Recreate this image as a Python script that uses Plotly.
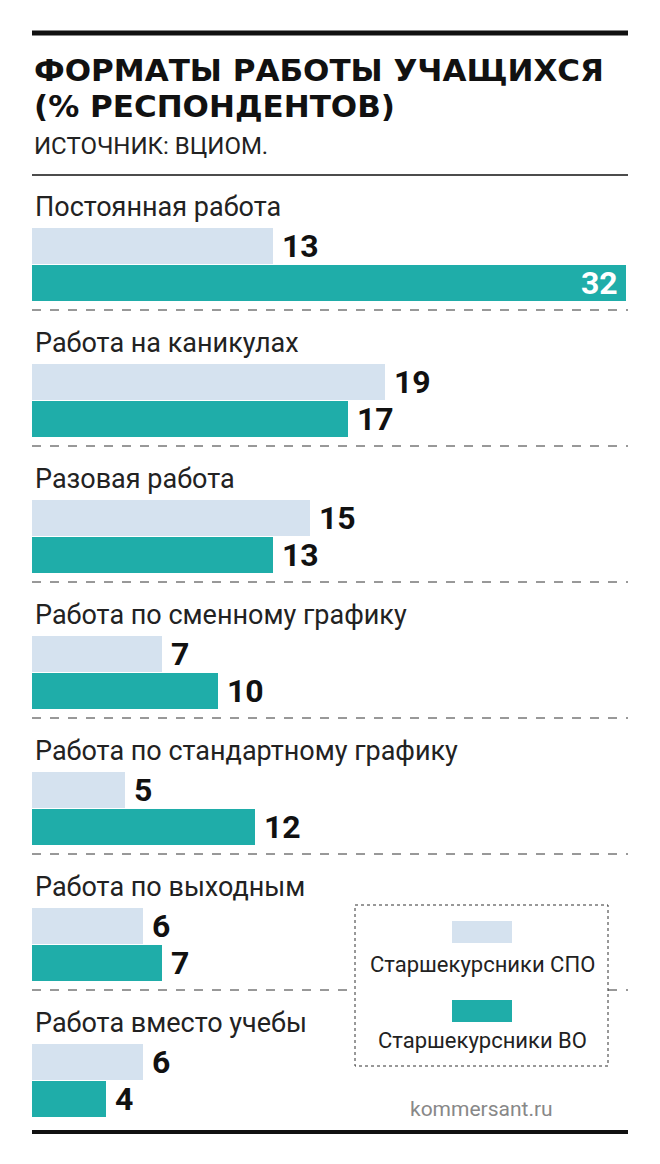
import plotly.graph_objects as go

categories = ["Постоянная работа", "Работа на каникулах", "Разовая работа",
              "Работа по сменному графику", "Работа по стандартному графику",
              "Работа по выходным", "Работа вместо учебы"]
spo = [13, 19, 15, 7, 5, 6, 6]
vo = [32, 17, 13, 10, 12, 7, 4]
series_names = ["Старшекурсники СПО", "Старшекурсники ВО"]

W, H = 660, 1164
OFF = 8  # page body margin compensation
LIGHT, TEAL = "#d5e2ef", "#1fada9"
NUM_FONT = "Liberation Sans Narrow, Roboto, Arial"
X0, X1 = 32, 626
xmax = 32

def fx(p):
    return (p - OFF) / W

pitch = 136
label_y = [207 + i * pitch for i in range(len(categories))]
y_spo = [ly + 39 for ly in label_y]
y_vo = [ly + 76 for ly in label_y]

fig = go.Figure()
fig.add_bar(x=spo, y=y_spo, orientation="h", width=36, marker_color=LIGHT,
            marker_line_width=0, name=series_names[0], showlegend=False)
fig.add_bar(x=vo, y=y_vo, orientation="h", width=36, marker_color=TEAL,
            marker_line_width=0, name=series_names[1], showlegend=False)

ann = []
shapes = []
for i, c in enumerate(categories):
    ann.append(dict(x=fx(X0) + 0.002, y=label_y[i], xref="paper", yref="y", text=c,
                    showarrow=False, xanchor="left", yanchor="middle",
                    font=dict(family=NUM_FONT, size=27, color="#222")))
    for v, yy in ((spo[i], y_spo[i]), (vo[i], y_vo[i])):
        inside = v >= xmax - 1
        ann.append(dict(x=v, y=yy, xref="x", yref="y", text=f"<b>{v}</b>",
                        showarrow=False, xanchor="right" if inside else "left",
                        xshift=-6 if inside else 7, yanchor="middle",
                        font=dict(family=NUM_FONT, size=32,
                                  color="white" if inside else "#111")))
    sep = label_y[i] + 103
    if i < len(categories) - 1:
        shapes.append(dict(type="line", xref="paper", yref="y", x0=fx(32), x1=fx(628),
                           y0=sep, y1=sep, line=dict(color="#333", width=1, dash="dash")))

shapes += [
    dict(type="line", xref="paper", yref="y", x0=fx(32), x1=fx(628), y0=33, y1=33,
         line=dict(color="#111", width=5)),
    dict(type="line", xref="paper", yref="y", x0=fx(32), x1=fx(628), y0=175, y1=175,
         line=dict(color="#111", width=1.5)),
    dict(type="line", xref="paper", yref="y", x0=fx(32), x1=fx(628), y0=1132, y1=1132,
         line=dict(color="#111", width=4)),
    dict(type="rect", xref="paper", yref="y", x0=fx(355), x1=fx(608), y0=905, y1=1066,
         line=dict(color="#333", width=1, dash="dot"), fillcolor="white", layer="above"),
    dict(type="rect", xref="paper", yref="y", x0=fx(452), x1=fx(512), y0=921, y1=943,
         line_width=0, fillcolor=LIGHT, layer="above"),
    dict(type="rect", xref="paper", yref="y", x0=fx(452), x1=fx(512), y0=1000, y1=1022,
         line_width=0, fillcolor=TEAL, layer="above"),
]

ann += [
    dict(x=fx(32), y=70, xref="paper", yref="y", text="<b>ФОРМАТЫ РАБОТЫ УЧАЩИХСЯ</b>",
         showarrow=False, xanchor="left", yanchor="middle",
         font=dict(family="DejaVu Sans", size=31, color="#111")),
    dict(x=fx(32), y=106, xref="paper", yref="y", text="<b>(% РЕСПОНДЕНТОВ)</b>",
         showarrow=False, xanchor="left", yanchor="middle",
         font=dict(family="DejaVu Sans", size=31, color="#111")),
    dict(x=fx(32), y=146, xref="paper", yref="y", text="ИСТОЧНИК: ВЦИОМ.",
         showarrow=False, xanchor="left", yanchor="middle",
         font=dict(family=NUM_FONT, size=24, color="#222")),
    dict(x=fx(482), y=964, xref="paper", yref="y", text=series_names[0],
         showarrow=False, xanchor="center", yanchor="middle",
         font=dict(family=NUM_FONT, size=22, color="#222")),
    dict(x=fx(482), y=1040, xref="paper", yref="y", text=series_names[1],
         showarrow=False, xanchor="center", yanchor="middle",
         font=dict(family=NUM_FONT, size=22, color="#222")),
    dict(x=fx(555), y=1109, xref="paper", yref="y", text="kommersant.ru",
         showarrow=False, xanchor="right", yanchor="middle",
         font=dict(family=NUM_FONT, size=21, color="#888")),
]

fig.update_layout(
    width=W, height=H, margin=dict(l=0, r=0, t=0, b=0),
    paper_bgcolor="white", plot_bgcolor="white", bargap=0,
    xaxis=dict(domain=[fx(X0), fx(X1)], range=[0, xmax], visible=False),
    yaxis=dict(domain=[0, 1], range=[H + OFF, OFF], visible=False),
    annotations=ann, shapes=shapes,
)
fig.write_html("out.html")
